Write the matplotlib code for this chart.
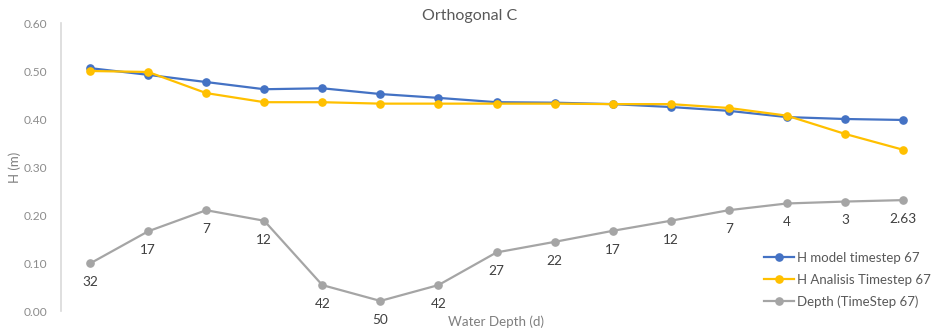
import matplotlib
matplotlib.use("Agg")
import matplotlib.pyplot as plt

plt.rcParams['font.family'] = ['Lato', 'DejaVu Sans']

depth_labels = ["32", "17", "7", "12", "42", "50", "42", "27", "22", "17", "12", "7", "4", "3", "2.63"]
h_model = [0.506, 0.492, 0.477, 0.462, 0.464, 0.452, 0.444, 0.435, 0.434, 0.431, 0.425, 0.417, 0.404, 0.400, 0.398]
h_analisis = [0.500, 0.498, 0.454, 0.435, 0.435, 0.432, 0.432, 0.432, 0.432, 0.431, 0.431, 0.423, 0.407, 0.369, 0.336]
depth_series = [0.099, 0.166, 0.210, 0.188, 0.054, 0.021, 0.054, 0.122, 0.144, 0.167, 0.188, 0.210, 0.224, 0.228, 0.231]

fig = plt.figure(figsize=(9.32, 3.36), dpi=100)
ax = fig.add_axes([61 / 932, 25 / 336, 871 / 932, 288 / 336])

x = list(range(len(depth_labels)))
ax.plot(x, h_model, color='#4472C4', lw=1.6, marker='o', ms=5.2, label='H model timestep 67', zorder=3)
ax.plot(x, h_analisis, color='#FFC000', lw=1.6, marker='o', ms=5.2, label='H Analisis Timestep 67', zorder=4)
ax.plot(x, depth_series, color='#A5A5A5', lw=1.6, marker='o', ms=5.2, label='Depth (TimeStep 67)', zorder=3)

for xi, yi, lab in zip(x, depth_series, depth_labels):
    ax.annotate(lab, (xi, yi), xytext=(0, -13.5), textcoords='offset points',
                ha='center', va='center', fontsize=9.8, color='#404040')

ax.set_xlim(-0.5, len(x) - 0.5)
ax.set_ylim(0, 0.6)
ax.set_yticks([0, 0.1, 0.2, 0.3, 0.4, 0.5, 0.6])
ax.set_yticklabels([f"{v:.2f}" for v in [0, 0.1, 0.2, 0.3, 0.4, 0.5, 0.6]])
ax.set_xticks([])
ax.tick_params(axis='y', length=0, pad=10, labelsize=8.6, labelcolor='#8c8c8c')

for s in ['top', 'right', 'bottom']:
    ax.spines[s].set_visible(False)
ax.spines['left'].set_color('#d9d9d9')
ax.spines['left'].set_linewidth(1.2)

fig.text(470 / 932, 1 - 16 / 336, 'Orthogonal C', ha='center', va='center',
         fontsize=11.5, color='#595959')
fig.text(15 / 932, 1 - 167 / 336, 'H (m)', rotation=90, ha='center', va='center',
         fontsize=9.5, color='#7f7f7f')
fig.text(496 / 932, 1 - 322 / 336, 'Water Depth (d)', ha='center', va='center',
         fontsize=9.6, color='#7f7f7f')

leg = ax.legend(loc='upper left', bbox_to_anchor=(764 / 932, 1 - 252 / 336),
                bbox_transform=fig.transFigure, frameon=False, fontsize=9.5,
                handlelength=2.3, handletextpad=0.2, labelspacing=0.72,
                borderpad=0, borderaxespad=0)
for t in leg.get_texts():
    t.set_color('#595959')

fig.savefig('out.png', dpi=100)
